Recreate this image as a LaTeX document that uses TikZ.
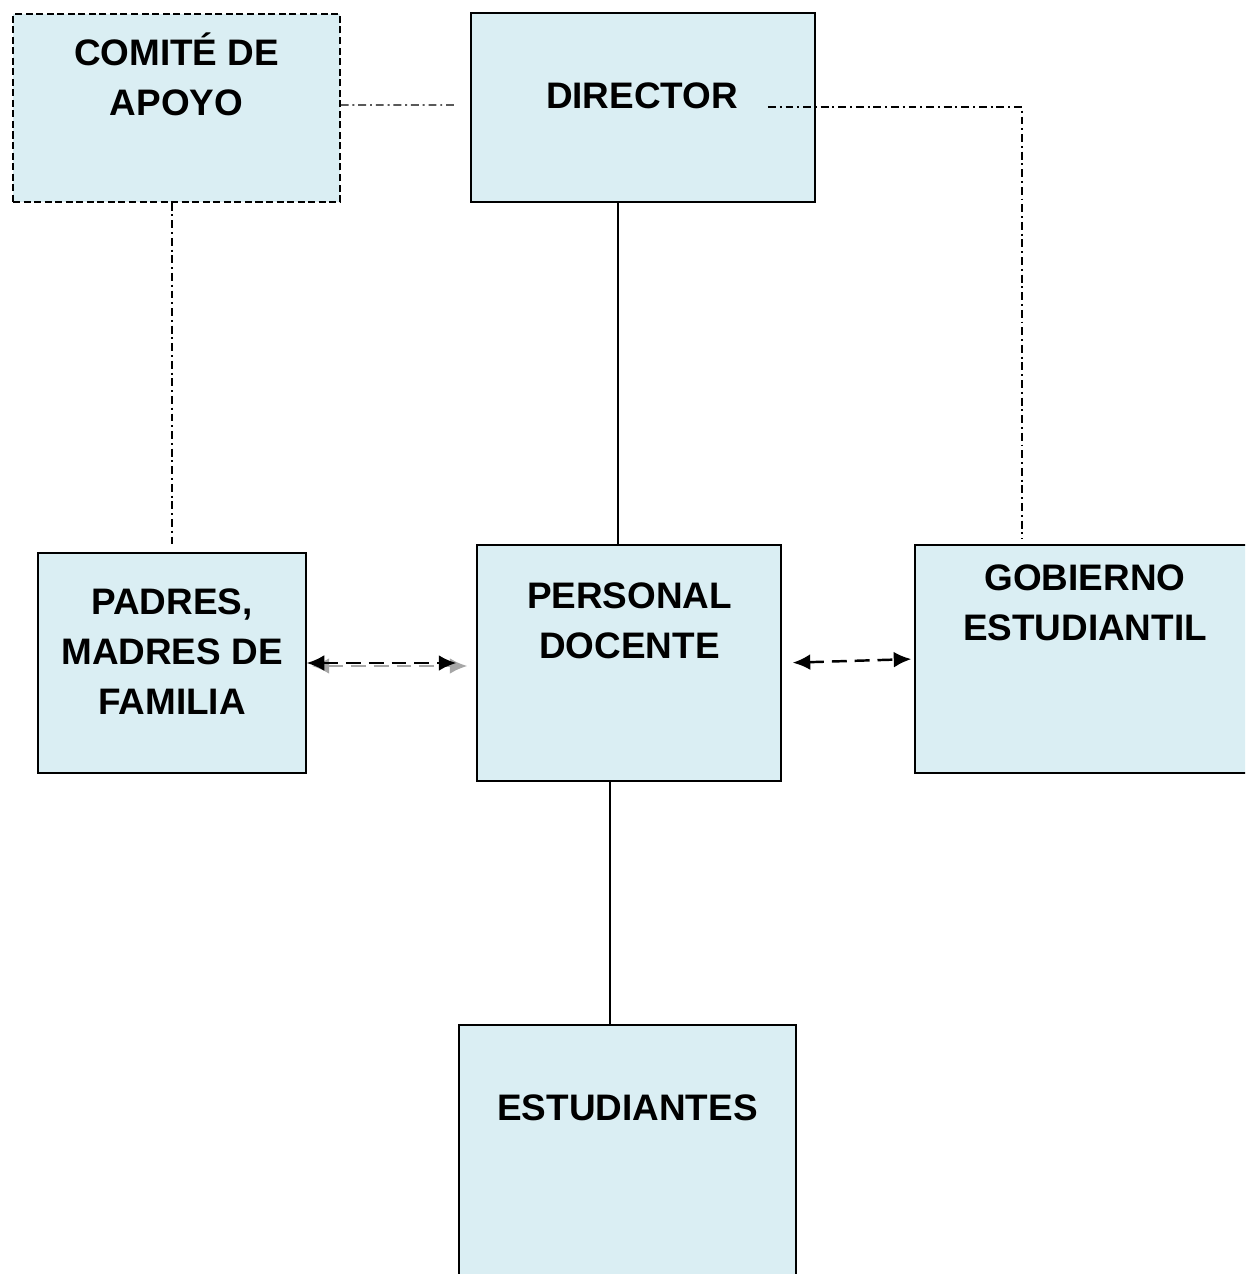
\documentclass[tikz,border=0pt]{standalone}
\usepackage{fontspec}
\setmainfont{Liberation Sans}
\usetikzlibrary{arrows.meta}
\definecolor{boxblue}{RGB}{218,238,243}

\tikzset{
  box/.style={draw, line width=0.8pt, fill=boxblue, inner sep=0pt},
  txt/.style={inner sep=0pt, align=center, font=\fontsize{21}{28.4}\selectfont\bfseries},
  dashdot/.style={line width=0.75pt, dash pattern=on 4.5pt off 2.2pt on 1.1pt off 2.2pt},
  link/.style={line width=1.4pt, dash pattern=on 8.5pt off 4.5pt,
    {Latex[length=10pt,width=9pt]}-{Latex[length=10pt,width=9pt]}}
}

\begin{document}
\begin{tikzpicture}[x=0.02cm, y=-0.02cm]
        \clip (0,0) rectangle (1245,1274);
        \fill[white] (0,0) rectangle (1245,1274);

        % Boxes
        \node (com) at (176.5,108) [box, dash pattern=on 4pt off 2pt, minimum width=6.54cm, minimum height=3.76cm] {};
        \node (dir) at (643,107.5) [box, minimum width=6.88cm, minimum height=3.78cm] {};
        \node (pad) at (172,663) [box, minimum width=5.36cm, minimum height=4.40cm] {};
        \node (per) at (629,663) [box, minimum width=6.08cm, minimum height=4.72cm] {};
        \node (gob) at (1085,659) [box, minimum width=6.80cm, minimum height=4.56cm] {};
        \node (est) at (627.5,1157.5) [box, minimum width=6.74cm, minimum height=5.30cm] {};

        % Texts
        \node (comtxt) at (176.5,74) [txt] {COMITÉ DE\\APOYO};
        \node (dirtxt) at (642,96) [txt] {DIRECTOR};
        \node (padtxt) at (172,652) [txt] {PADRES,\\MADRES DE\\FAMILIA};
        \node (pertxt) at (629.5,621) [txt] {PERSONAL\\DOCENTE};
        \node (gobtxt) at (1085,603) [txt] {GOBIERNO\\ESTUDIANTIL};
        \node (esttxt) at (627.5,1108) [txt] {ESTUDIANTES};

        % Solid lines
        \draw[line width=1pt] ([xshift=-0.5cm]dir.south) -- ([xshift=-0.22cm]per.north);
        \draw[line width=1pt] ([xshift=-0.38cm]per.south) -- ([xshift=-0.35cm]est.north);

        % Dash-dot lines
        \draw[dashdot] ([yshift=0.06cm]com.east) -- ([xshift=-0.32cm,yshift=0.05cm]dir.west);
        \draw[dashdot] ([xshift=2.5cm,yshift=0.01cm]dir.center) -| ([xshift=-1.26cm,yshift=0.1cm]gob.north);
        \draw[dashdot] (pad.north |- com.south) -- ([yshift=0.1cm]pad.north);

        % Arrows
        \draw[link, gray!70, shorten >=0.28cm] ([xshift=0.1cm,yshift=-0.06cm]pad.east) -- ([xshift=0.1cm,yshift=-0.06cm]per.west);
        \draw[link, shorten >=0.4cm] (pad.east) -- (per.west);
        \draw[link, shorten <=0.22cm, shorten >=0.06cm] (per.east) -- (gob.west);
    \end{tikzpicture}
\end{document}
